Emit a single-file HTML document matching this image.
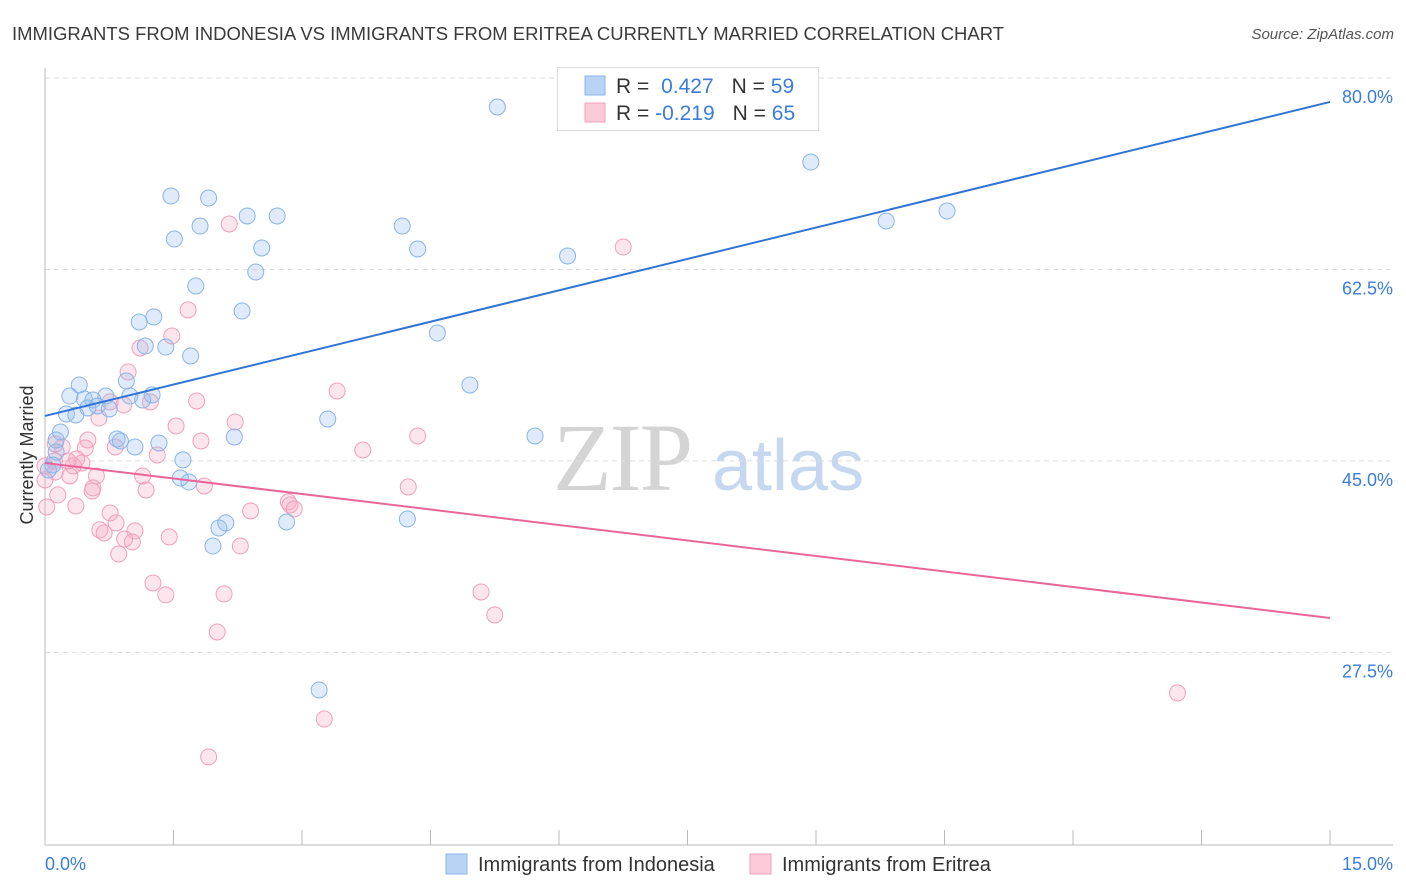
<!DOCTYPE html>
<html><head><meta charset="utf-8"><style>
body{margin:0;background:#fff;font-family:"Liberation Sans",sans-serif;}
svg{display:block}
</style></head><body>
<svg id="chart" width="1406" height="892">
<text x="12" y="40" font-size="18" fill="#3a3a3a" textLength="992" lengthAdjust="spacingAndGlyphs">IMMIGRANTS FROM INDONESIA VS IMMIGRANTS FROM ERITREA CURRENTLY MARRIED CORRELATION CHART</text>
<text x="1394" y="39" font-size="15" fill="#555" font-style="italic" text-anchor="end">Source: ZipAtlas.com</text>
<g>
<text x="553" y="490" font-size="96" font-family="Liberation Serif,serif" fill="#d4d4d4" letter-spacing="-2">ZIP</text>
<text x="712" y="490" font-size="72" fill="#c5d8ef">atlas</text>
</g>
<g id="grid"></g>
<g id="axes"></g>
<g id="pts"></g>
<g id="lines"></g>
<text x="33" y="455" font-size="18" fill="#333" text-anchor="middle" transform="rotate(-90 33 455)">Currently Married</text>
<g>
<rect x="557.5" y="67.5" width="261" height="63" fill="#fff" stroke="#ddd"/>
<rect x="585" y="76" width="20" height="19" fill="#b9d3f5" stroke="#8ab4e8"/>
<rect x="585" y="103" width="20" height="19" fill="#fccbd9" stroke="#f0a0bc"/>
<text x="616" y="93" font-size="21" fill="#333">R = <tspan fill="#3b7dd8" dx="6">0.427</tspan><tspan dx="18">N = </tspan><tspan fill="#3b7dd8">59</tspan></text>
<text x="616" y="120" font-size="21" fill="#333">R = <tspan fill="#3b7dd8">-0.219</tspan><tspan dx="18">N = </tspan><tspan fill="#3b7dd8">65</tspan></text>
</g>
<g>
<rect x="446" y="854" width="21" height="20" fill="#b9d3f5" stroke="#8ab4e8"/>
<text x="478" y="871" font-size="20" fill="#333">Immigrants from Indonesia</text>
<rect x="750" y="854" width="21" height="20" fill="#fccbd9" stroke="#f0a0bc"/>
<text x="782" y="871" font-size="20" fill="#333">Immigrants from Eritrea</text>
</g>
</svg>
<script>
const blueX=[5.28,8.94,9.82,10.53,1.47,1.91,2.36,2.71,1.51,1.81,2.53,4.17,4.35,6.10,2.46,1.76,2.30,1.27,1.10,4.58,1.17,1.41,1.70,4.96,0.40,0.95,0.29,0.46,0.71,0.99,1.25,1.14,0.56,0.61,0.75,0.50,0.25,0.36,3.30,0.18,0.13,0.84,0.88,1.33,1.05,2.21,5.72,0.13,0.09,1.61,1.58,1.68,2.11,2.03,2.82,4.23,1.96,3.20,0.04];
const blueY=[77.35,72.32,66.93,67.84,69.21,69.03,67.39,67.39,65.28,66.47,64.46,66.47,64.37,63.73,62.27,60.99,58.70,58.16,57.70,56.69,55.50,55.41,54.59,51.94,51.94,52.31,50.93,50.66,50.93,50.93,51.03,50.57,50.57,50.02,49.75,49.84,49.29,49.20,48.83,47.64,46.91,47.00,46.82,46.64,46.27,47.19,47.28,45.82,44.63,45.09,43.44,43.07,39.33,38.87,39.42,39.69,37.22,24.06,44.17];
const pinkX=[2.15,6.75,1.67,1.48,1.11,0.97,3.41,1.77,0.76,1.23,0.92,2.22,1.53,0.63,4.35,0.20,0.50,0.12,0.47,1.82,3.71,0.82,1.31,0.37,0.27,0.43,0.11,0.33,0.00,0.12,0.60,1.14,0.29,1.86,4.24,0.56,0.55,0.15,1.18,0.36,2.84,2.86,2.91,2.40,0.76,0.83,0.64,0.69,1.05,0.93,1.02,1.45,2.28,0.86,1.26,1.41,2.09,5.09,5.25,2.01,3.26,13.22,1.91,0.02,0.00];
const pinkY=[66.66,64.55,58.80,56.42,55.32,53.13,51.39,50.48,50.39,50.39,50.11,48.56,48.19,48.92,47.28,46.27,46.91,46.55,46.18,46.82,46.00,46.27,45.54,45.18,44.99,44.81,44.99,44.54,44.54,43.99,43.62,43.62,43.62,42.71,42.62,42.53,42.25,41.89,42.34,40.88,41.25,40.97,40.61,40.42,40.24,39.33,38.69,38.41,38.60,37.86,37.59,38.05,37.22,36.49,33.84,32.75,32.84,33.02,30.92,29.36,21.41,23.79,17.94,40.79,43.26];
const blueTrend=[49.11,77.81];
const pinkTrend=[44.81,30.64];
const yTicks=[80,62.5,45,27.5];
const yTickLabels=["80.0%","62.5%","45.0%","27.5%"];
const xTicks=[0,1.5,3,4.5,6,7.5,9,10.5,12,13.5,15];
const xEndLabels=["0.0%","15.0%"];
const NS="http://www.w3.org/2000/svg";
const X0=45,X1=1330,XMAX=15,YTOP=78,YBOT=845;
function sx(v){return X0+(X1-X0)*v/XMAX;}
function sy(v){return YTOP+(80-v)*10.94;}
function mk(tag,attrs,parent){const e=document.createElementNS(NS,tag);for(const k in attrs)e.setAttribute(k,attrs[k]);parent.appendChild(e);return e;}
const grid=document.getElementById('grid'),axes=document.getElementById('axes');
yTicks.forEach((t,i)=>{
  const l=mk('line',{x1:X0,x2:1393,y1:sy(t),y2:sy(t),stroke:'#ddd','stroke-dasharray':'5,4'},grid);
  
  
  const tx=mk('text',{x:1393,y:sy(t)+25,'font-size':18,fill:'#3b7dd8','text-anchor':'end'},axes);
  tx.textContent=yTickLabels[i];
  
  
});
let a=mk('line',{x1:X0,x2:1393,y1:YBOT,y2:YBOT,stroke:'#bbb'},axes);


a=mk('line',{x1:X0,x2:X0,y1:68,y2:YBOT,stroke:'#bbb'},axes);


xTicks.forEach(t=>{
  const l=mk('line',{x1:sx(t),x2:sx(t),y1:830,y2:YBOT,stroke:'#bbb'},axes);
  
  
});
let t0=mk('text',{x:45,y:870,'font-size':18,fill:'#3b7dd8'},axes);t0.textContent=xEndLabels[0];


let t1=mk('text',{x:1393,y:870,'font-size':18,fill:'#3b7dd8','text-anchor':'end'},axes);t1.textContent=xEndLabels[1];


const pts=document.getElementById('pts');
pinkX.forEach((x,i)=>{
  const c=mk('circle',{cx:sx(x),cy:sy(pinkY[i]),r:8,fill:'rgba(248,170,195,0.3)',stroke:'#f0a0bc','stroke-width':1},pts);
  
  
});
blueX.forEach((x,i)=>{
  const c=mk('circle',{cx:sx(x),cy:sy(blueY[i]),r:8,fill:'rgba(150,190,240,0.3)',stroke:'#8ab4e8','stroke-width':1},pts);
  
  
});
const lines=document.getElementById('lines');
let bl=mk('line',{x1:sx(0),y1:sy(blueTrend[0]),x2:sx(15),y2:sy(blueTrend[1]),stroke:'#2f74d6','stroke-width':2},lines);


let pl=mk('line',{x1:sx(0),y1:sy(pinkTrend[0]),x2:sx(15),y2:sy(pinkTrend[1]),stroke:'#e8669a','stroke-width':2},lines);


</script>
</body></html>
